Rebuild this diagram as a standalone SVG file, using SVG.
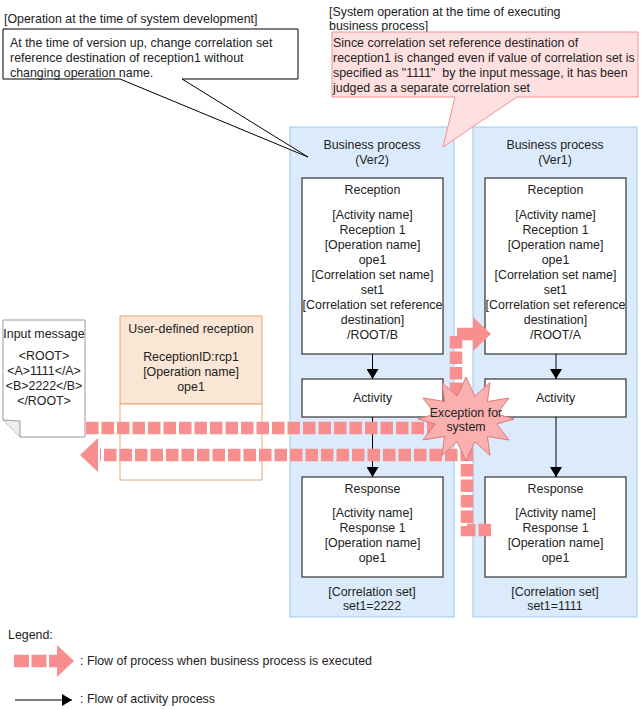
<svg xmlns="http://www.w3.org/2000/svg" width="641" height="709" viewBox="0 0 641 709">
<style>
text{font-family:"Liberation Sans",Arial,sans-serif;font-size:12.4px;fill:#222}
.c{text-anchor:middle}
.bp{fill:#DCEBFB;stroke:#9CC8F0;stroke-width:1}
.box{fill:#fff;stroke:#333;stroke-width:1.2}
.flow{fill:none;stroke:#F88E8E;stroke-width:12.5;stroke-dasharray:12.5 3}
.head{fill:#F88E8E}
.act{stroke:#000;stroke-width:1;fill:none;marker-end:url(#ah)}
</style>
<defs>
<marker id="ah" markerWidth="10" markerHeight="12" refX="10" refY="6" orient="auto" markerUnits="userSpaceOnUse">
<path d="M0,0 L10,6 L0,12 Z" fill="#000"/>
</marker>
</defs>
<rect width="641" height="709" fill="#fff"/>

<g id="header-dev">
<text x="4" y="23">[Operation at the time of system development]</text>
</g>
<g id="header-sys">
<text x="329" y="16">[System operation at the time of executing</text>
<text x="329" y="30">business process]</text>
</g>

<g id="bp-ver2">
<rect class="bp" x="290" y="127" width="164" height="490"/>
<text class="c" x="372" y="149">Business process</text>
<text class="c" x="372" y="164">(Ver2)</text>
<text class="c" x="372" y="596">[Correlation set]</text>
<text class="c" x="372" y="610">set1=2222</text>
</g>
<g id="bp-ver1">
<rect class="bp" x="473" y="127" width="164" height="490"/>
<text class="c" x="555" y="149">Business process</text>
<text class="c" x="555" y="164">(Ver1)</text>
<text class="c" x="555" y="596">[Correlation set]</text>
<text class="c" x="555" y="610">set1=1111</text>
</g>

<g id="reception-ver2">
<rect class="box" x="302" y="178" width="141" height="176"/>
<text class="c" x="372.5" y="194">Reception</text>
<text class="c" x="372.5" y="219">[Activity name]</text>
<text class="c" x="372.5" y="234">Reception 1</text>
<text class="c" x="372.5" y="249">[Operation name]</text>
<text class="c" x="372.5" y="264">ope1</text>
<text class="c" x="372.5" y="279">[Correlation set name]</text>
<text class="c" x="372.5" y="294">set1</text>
<text class="c" x="372.5" y="309">[Correlation set reference</text>
<text class="c" x="372.5" y="324">destination]</text>
<text class="c" x="372.5" y="339">/ROOT/B</text>
</g>
<g id="activity-ver2">
<rect class="box" x="302" y="379" width="141" height="38"/>
<text class="c" x="372.5" y="402">Activity</text>
</g>
<g id="response-ver2">
<rect class="box" x="302" y="477" width="141" height="100"/>
<text class="c" x="372.5" y="493">Response</text>
<text class="c" x="372.5" y="517">[Activity name]</text>
<text class="c" x="372.5" y="532">Response 1</text>
<text class="c" x="372.5" y="547">[Operation name]</text>
<text class="c" x="372.5" y="562">ope1</text>
</g>

<g id="reception-ver1">
<rect class="box" x="485" y="178" width="141" height="176"/>
<text class="c" x="555.5" y="194">Reception</text>
<text class="c" x="555.5" y="219">[Activity name]</text>
<text class="c" x="555.5" y="234">Reception 1</text>
<text class="c" x="555.5" y="249">[Operation name]</text>
<text class="c" x="555.5" y="264">ope1</text>
<text class="c" x="555.5" y="279">[Correlation set name]</text>
<text class="c" x="555.5" y="294">set1</text>
<text class="c" x="555.5" y="309">[Correlation set reference</text>
<text class="c" x="555.5" y="324">destination]</text>
<text class="c" x="555.5" y="339">/ROOT/A</text>
</g>
<g id="activity-ver1">
<rect class="box" x="485" y="379" width="141" height="38"/>
<text class="c" x="555.5" y="402">Activity</text>
</g>
<g id="response-ver1">
<rect class="box" x="485" y="477" width="141" height="100"/>
<text class="c" x="555.5" y="493">Response</text>
<text class="c" x="555.5" y="517">[Activity name]</text>
<text class="c" x="555.5" y="532">Response 1</text>
<text class="c" x="555.5" y="547">[Operation name]</text>
<text class="c" x="555.5" y="562">ope1</text>
</g>

<g id="input-message">
<path d="M3,320 H85 V437 H20 L3,420 Z" fill="#fff" stroke="#999" stroke-width="1"/>
<path d="M3,420 L20,421 L20,437" fill="#eee" stroke="#999" stroke-width="1"/>
<text class="c" x="44" y="337.5">Input message</text>
<text class="c" x="44" y="360">&lt;ROOT&gt;</text>
<text class="c" x="44" y="375">&lt;A&gt;1111&lt;/A&gt;</text>
<text class="c" x="44" y="390">&lt;B&gt;2222&lt;/B&gt;</text>
<text class="c" x="44" y="405">&lt;/ROOT&gt;</text>
</g>

<g id="user-defined-reception">
<rect x="120" y="316" width="142" height="88" fill="#F9E6D4" stroke="#E8A870" stroke-width="1"/>
<rect x="120" y="404" width="142" height="76" fill="#fff" stroke="#E8A870" stroke-width="1"/>
<text class="c" x="191" y="332.5">User-defined reception</text>
<text class="c" x="191" y="361">ReceptionID:rcp1</text>
<text class="c" x="191" y="376">[Operation name]</text>
<text class="c" x="191" y="391">ope1</text>
</g>

<g id="connectors">
<line class="act" x1="372.5" y1="354" x2="372.5" y2="379"/>
<line class="act" x1="372.5" y1="417" x2="372.5" y2="477"/>
<line class="act" x1="556" y1="354" x2="556" y2="379"/>
<line class="act" x1="556" y1="417" x2="556" y2="477"/>
<path class="flow" d="M86,428 H456 V334 H467"/>
<path class="flow" d="M467,334 H474" style="stroke-dasharray:none"/>
<polygon class="head" points="473,317 491,334 473,351"/>
<path class="flow" d="M491,530 H467 V455 H100"/>
<polygon class="head" points="98,438 80,455 98,472"/>
</g>

<g id="exception">
<polygon fill="#FBB0B0" stroke="#E07878" stroke-width="1" points="466.0,377.0 474.8,396.2 490.0,382.6 487.4,401.6 509.0,398.0 496.8,414.0 514.0,419.0 496.8,424.0 509.0,440.0 487.4,436.4 490.0,455.4 474.8,441.8 466.0,461.0 457.2,441.8 442.0,455.4 444.6,436.4 423.0,440.0 435.2,424.0 418.0,419.0 435.2,414.0 423.0,398.0 444.6,401.6 442.0,382.6 457.2,396.2"/>
<text class="c" x="466" y="417">Exception for</text>
<text class="c" x="466" y="431">system</text>
</g>

<g id="callout-dev">
<path d="M3,29 H298 V79 H182 L308,157 L120,79 H3 Z" fill="#fff" stroke="#000" stroke-width="1"/>
<text x="10" y="47">At the time of version up, change correlation set</text>
<text x="10" y="62">reference destination of reception1 without</text>
<text x="10" y="77">changing operation name.</text>
</g>
<g id="callout-sys">
<path d="M332,32 H638 V97 H517 L443,147 L455,97 H332 Z" fill="#FFE0E0" stroke="#F09090" stroke-width="1"/>
<text x="333" y="47">Since correlation set reference destination of</text>
<text x="333" y="62">reception1 is changed even if value of correlation set is</text>
<text x="333" y="77" xml:space="preserve">specified as "1111"  by the input message, it has been</text>
<text x="333" y="92">judged as a separate correlation set</text>
</g>

<g id="legend">
<text x="8" y="639">Legend:</text>
<path class="flow" d="M14,661 H58" style="stroke-dasharray:15 2.5"/>
<polygon class="head" points="57,645 74,661 57,677"/>
<text x="80" y="665">: Flow of process when business process is executed</text>
<line class="act" x1="15" y1="700" x2="72" y2="700"/>
<text x="80" y="703">: Flow of activity process</text>
</g>
</svg>
